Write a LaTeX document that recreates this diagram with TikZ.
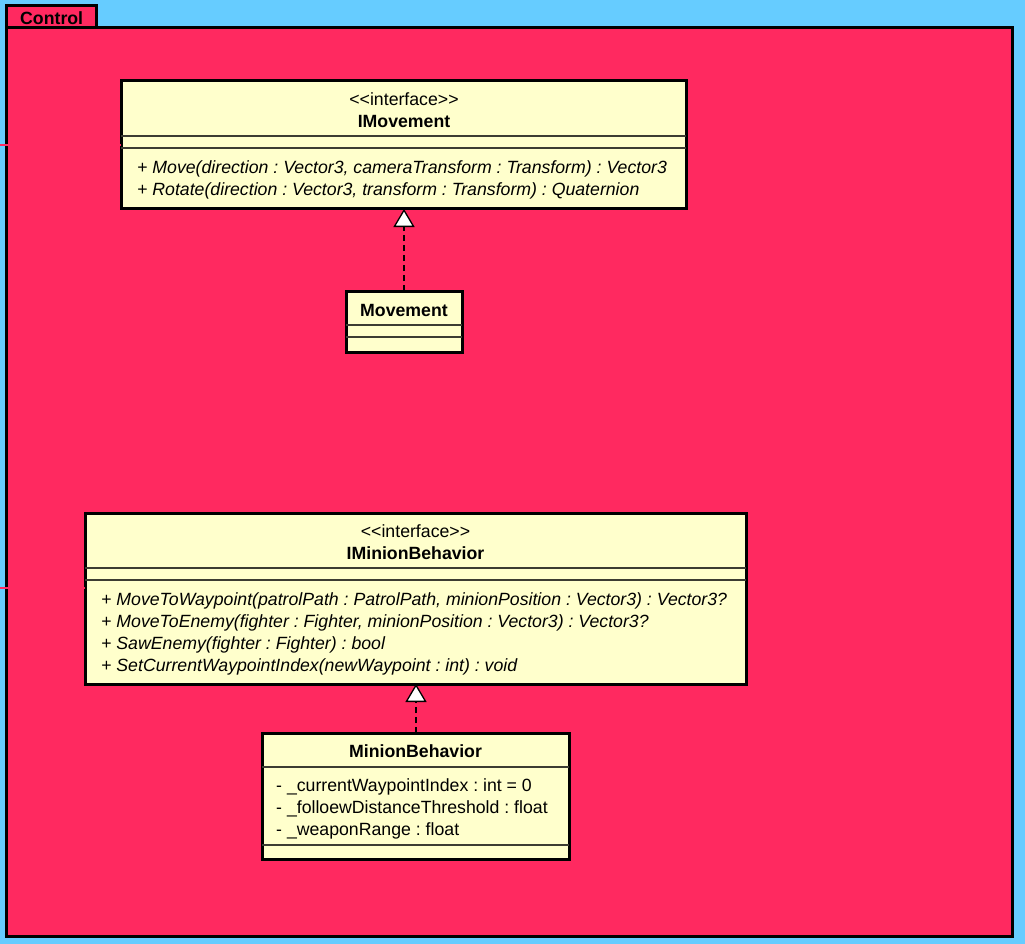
\documentclass[tikz,border=0pt]{standalone}
\usepackage{fontspec}
\newfontfamily\uml{Liberation Sans}
\usetikzlibrary{arrows.meta}
\frenchspacing
\definecolor{bgblue}{RGB}{102,204,255}
\definecolor{pkgpink}{RGB}{255,41,96}
\definecolor{clsyellow}{RGB}{255,255,204}
\definecolor{sepline}{RGB}{60,60,50}
\tikzset{
  pkg/.style={draw=black, line width=3pt, fill=pkgpink},
  classbox/.style={draw=black, line width=3pt, fill=clsyellow, anchor=north west, inner sep=0pt, outer sep=0pt},
  sep/.style={draw=sepline, line width=1.3pt},
  txt/.style={font=\uml\fontsize{17.7}{21}\selectfont\frenchspacing, inner sep=0pt, text=black},
  bold/.style={txt, font=\uml\fontsize{17.7}{21}\selectfont\bfseries},
  meth/.style={txt, anchor=base west, font=\uml\fontsize{17.7}{21}\selectfont\itshape\frenchspacing},
  attr/.style={txt, anchor=base west},
  realize/.style={line width=1.5pt, dash pattern=on 6pt off 4pt, -{Triangle[open, length=18pt, width=21pt, fill=white, line width=1.3pt]}},
  stub/.style={draw=pkgpink, line width=1.8pt}
}
\begin{document}
\begin{tikzpicture}[x=1pt,y=-1pt]
\useasboundingbox (0,0) rectangle (1025,944);
\fill[bgblue] (0,0) rectangle (1025,944);
% package
\draw[pkg] (6,6) rectangle (96,28);
\draw[pkg] (6,28) rectangle (1012,936);
\node[bold, anchor=base west] (pkgname) at (20,25) {Control};

% IMovement
\node[classbox, minimum width=565pt, minimum height=128pt] (imov) at (121,81) {};
\node[txt, anchor=base] (imovst) at (404,106) {<{}<interface>{}>};
\node[bold, anchor=base] (imovname) at (404,128) {IMovement};
\draw[sep] (imov.west |- 0,136) -- (imov.east |- 0,136);
\draw[sep] (imov.west |- 0,148) -- (imov.east |- 0,148);
\node[meth] (imovm1) at (137,174) {+ Move(direction : Vector3, cameraTransform : Transform) : Vector3};
\node[meth] (imovm2) at (137,196) {+ Rotate(direction : Vector3, transform : Transform) : Quaternion};

% Movement
\node[classbox, minimum width=116pt, minimum height=61pt] (mov) at (346,291) {};
\node[bold, anchor=base] (movname) at (404,316) {Movement};
\draw[sep] (mov.west |- 0,325) -- (mov.east |- 0,325);
\draw[sep] (mov.west |- 0,337) -- (mov.east |- 0,337);

% IMinionBehavior
\node[classbox, minimum width=661pt, minimum height=171pt] (imin) at (85,513) {};
\node[txt, anchor=base] (iminst) at (415.5,537) {<{}<interface>{}>};
\node[bold, anchor=base] (iminname) at (415.5,559) {IMinionBehavior};
\draw[sep] (imin.west |- 0,568) -- (imin.east |- 0,568);
\draw[sep] (imin.west |- 0,580) -- (imin.east |- 0,580);
\node[meth] (iminm1) at (101,605) {+ MoveToWaypoint(patrolPath : PatrolPath, minionPosition : Vector3) : Vector3?};
\node[meth] (iminm2) at (101,627) {+ MoveToEnemy(fighter : Fighter, minionPosition : Vector3) : Vector3?};
\node[meth] (iminm3) at (101,649) {+ SawEnemy(fighter : Fighter) : bool};
\node[meth] (iminm4) at (101,671) {+ SetCurrentWaypointIndex(newWaypoint : int) : void};

% MinionBehavior
\node[classbox, minimum width=307pt, minimum height=126pt] (min) at (262,733) {};
\node[bold, anchor=base] (minname) at (415.5,757) {MinionBehavior};
\draw[sep] (min.west |- 0,767) -- (min.east |- 0,767);
\node[attr] (mina1) at (276,791) {- \_currentWaypointIndex : int = 0};
\node[attr] (mina2) at (276,813) {- \_folloewDistanceThreshold : float};
\node[attr] (mina3) at (276,835) {- \_weaponRange : float};
\draw[sep] (min.west |- 0,845) -- (min.east |- 0,845);

% realizations
\draw[realize] (mov.north -| 404,0) -- (imov.south -| 404,0);
\draw[realize] (min.north -| 416,0) -- (imin.south -| 416,0);

% stubs at left edge
\coordinate (stubA) at (0,145);
\coordinate (stubB) at (0,588);
\draw[stub] (stubA) -- (imov.west |- stubA);
\draw[stub] (stubB) -- (imin.west |- stubB);
\end{tikzpicture}
\end{document}
